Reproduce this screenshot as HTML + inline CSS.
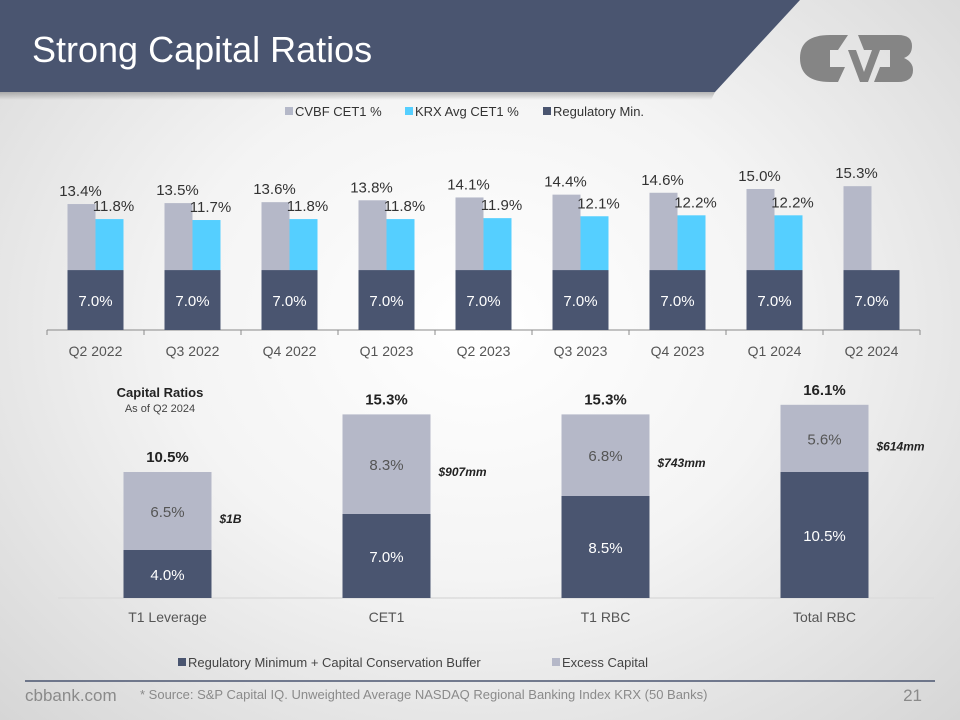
<!DOCTYPE html>
<html><head><meta charset="utf-8">
<style>
html,body{margin:0;padding:0;}
body{width:960px;height:720px;overflow:hidden;background:radial-gradient(ellipse at 50% 45%,#ffffff 0%,#f4f4f4 45%,#d6d6d6 100%);font-family:"Liberation Sans",sans-serif;}
svg{position:absolute;left:0;top:0;}
</style></head>
<body>
<svg width="960" height="720" viewBox="0 0 960 720" font-family="Liberation Sans, sans-serif">
  <defs>
    <linearGradient id="sh" x1="0" y1="0" x2="0" y2="1"><stop offset="0" stop-color="#000" stop-opacity="0.25"/><stop offset="1" stop-color="#000" stop-opacity="0"/></linearGradient>
  </defs>
  <polygon points="0,92 715,92 711,100 0,100" fill="url(#sh)"/>
  <polygon points="0,0 800,0 715,92 0,92" fill="#4a5570"/>
  <text x="32" y="62" font-size="36" fill="#ffffff">Strong Capital Ratios</text>
  <g fill="#858585">
    <path d="M830,35 H848 L840,47 L838,50 H830 V67 H845 L838,82 H830 Q800,82 800,58 Q800,35 830,35 Z"/>
    <polygon points="848,50 856,50 864,72 872,50 880,50 868,82 860,82"/>
    <path d="M858,35 H898 Q912,35 912,46 Q912,55 904,58 Q913,62 913,70 Q913,82 898,82 H874 L880,67 H890 V50 H864 Z"/>
  </g>
  <g id="topchart"></g>
  <g id="botchart"></g>
  <line x1="25" y1="681" x2="935" y2="681" stroke="#4a5570" stroke-width="1.5"/>
  <text x="25" y="701" font-size="17" fill="#8a8a8a">cbbank.com</text>
  <text x="140" y="699" font-size="13" fill="#8a8a8a">* Source: S&amp;P Capital IQ. Unweighted Average NASDAQ Regional Banking Index KRX (50 Banks)</text>
  <text x="922" y="701" font-size="17" fill="#8a8a8a" text-anchor="end">21</text>
</svg>
<script>
const NS='http://www.w3.org/2000/svg';
const topCats=['Q2 2022','Q3 2022','Q4 2022','Q1 2023','Q2 2023','Q3 2023','Q4 2023','Q1 2024','Q2 2024'];
const cvbf=[13.4,13.5,13.6,13.8,14.1,14.4,14.6,15.0,15.3];
const krx=[11.8,11.7,11.8,11.8,11.9,12.1,12.2,12.2,null];
const regMin=[7.0,7.0,7.0,7.0,7.0,7.0,7.0,7.0,7.0];
const botCats=['T1 Leverage','CET1','T1 RBC','Total RBC'];
const botReg=[4.0,7.0,8.5,10.5];
const botExcess=[6.5,8.3,6.8,5.6];
const botTotals=['10.5%','15.3%','15.3%','16.1%'];
const botDollars=['$1B','$907mm','$743mm','$614mm'];
const C_DARK='#4a5570',C_GREY='#b5b8c8',C_CYAN='#55cfff';
function mk(tag,attrs,parent,txt){const e=document.createElementNS(NS,tag);for(const k in attrs)e.setAttribute(k,attrs[k]);if(txt!=null)e.textContent=txt;parent.appendChild(e);return e;}
const topG=document.getElementById('topchart');
const tBase=330,tScale=9.4,tX0=47,tStep=97,bw=28;
const tx=i=>tX0+tStep*(i+0.5);
const ty=v=>tBase-v*tScale;
let e;
e=mk('line',{x1:tX0,y1:tBase,x2:tX0+tStep*9,y2:tBase,stroke:'#8a8a8a','stroke-width':1},topG);

for(let i=0;i<=9;i++){e=mk('line',{x1:tX0+tStep*i,y1:tBase,x2:tX0+tStep*i,y2:tBase+5,stroke:'#8a8a8a'},topG);
}
topCats.forEach((c,i)=>{
  const cx=tx(i);
  e=mk('rect',{x:cx-bw,y:ty(cvbf[i]),width:bw,height:tBase-ty(cvbf[i]),fill:C_GREY},topG);
  
  if(krx[i]!=null){e=mk('rect',{x:cx,y:ty(krx[i]),width:bw,height:tBase-ty(krx[i]),fill:C_CYAN},topG);
  }
  const rh=regMin[i]*tScale*0.91;
  e=mk('rect',{x:cx-bw,y:tBase-rh,width:bw*2,height:rh,fill:C_DARK},topG);
  
  e=mk('text',{x:cx,y:tBase-rh/2+6,'font-size':15,fill:'#fff','text-anchor':'middle'},topG,regMin[i].toFixed(1)+'%');
  
  e=mk('text',{x:cx-bw/2-1,y:ty(cvbf[i])-8,'font-size':15,fill:'#333','text-anchor':'middle'},topG,cvbf[i].toFixed(1)+'%');
  
  if(krx[i]!=null){e=mk('text',{x:cx+bw/2+4,y:ty(krx[i])-8,'font-size':15,fill:'#333','text-anchor':'middle'},topG,krx[i].toFixed(1)+'%');
  }
  e=mk('text',{x:cx,y:356,'font-size':14,fill:'#555','text-anchor':'middle'},topG,c);
  
});
const lg=[['CVBF CET1 %',C_GREY,295],['KRX Avg CET1 %',C_CYAN,415],['Regulatory Min.',C_DARK,553]];
lg.forEach(l=>{const g=mk('g',{},topG);
  mk('rect',{x:l[2]-10,y:107,width:8,height:8,fill:l[1]},g);
  mk('text',{x:l[2],y:116,'font-size':13,fill:'#333'},g,l[0]);});
const botG=document.getElementById('botchart');
const bBase=598,bScale=12,bX0=58,bStep=219,bbw=88;
const bx=i=>bX0+bStep*(i+0.5);
const by=v=>bBase-v*bScale;
e=mk('line',{x1:bX0,y1:bBase,x2:bX0+bStep*4,y2:bBase,stroke:'#dcdcdc','stroke-width':1.5},botG);

botCats.forEach((c,i)=>{
  const cx=bx(i),tot=botReg[i]+botExcess[i];
  e=mk('rect',{x:cx-bbw/2,y:by(tot),width:bbw,height:botExcess[i]*bScale,fill:C_GREY},botG);
  
  e=mk('rect',{x:cx-bbw/2,y:by(botReg[i]),width:bbw,height:botReg[i]*bScale,fill:C_DARK},botG);
  
  e=mk('text',{x:cx,y:by(tot)+botExcess[i]*bScale/2+6,'font-size':15,fill:'#555','text-anchor':'middle'},botG,botExcess[i].toFixed(1)+'%');
  
  e=mk('text',{x:cx,y:by(botReg[i]/2)+6,'font-size':15,fill:'#fff','text-anchor':'middle'},botG,botReg[i].toFixed(1)+'%');
  
  e=mk('text',{x:cx,y:by(tot)-10,'font-size':15,'font-weight':'bold',fill:'#222','text-anchor':'middle'},botG,botTotals[i]);
  
  e=mk('text',{x:cx+52,y:by(tot)+botExcess[i]*bScale/2+12,'font-size':12,'font-weight':'bold','font-style':'italic',fill:'#222'},botG,botDollars[i]);
  
  e=mk('text',{x:cx,y:622,'font-size':14,fill:'#555','text-anchor':'middle'},botG,c);
  
});
e=mk('text',{x:160,y:397,'font-size':13,'font-weight':'bold',fill:'#222','text-anchor':'middle'},botG,'Capital Ratios');

e=mk('text',{x:160,y:412,'font-size':11,fill:'#444','text-anchor':'middle'},botG,'As of Q2 2024');

const bl=[['Regulatory Minimum +  Capital Conservation Buffer',C_DARK,188],['Excess Capital',C_GREY,562]];
bl.forEach(l=>{const g=mk('g',{},botG);
  mk('rect',{x:l[2]-10,y:658,width:8,height:8,fill:l[1]},g);
  mk('text',{x:l[2],y:667,'font-size':13,fill:'#444'},g,l[0]);});
</script>
</body></html>
